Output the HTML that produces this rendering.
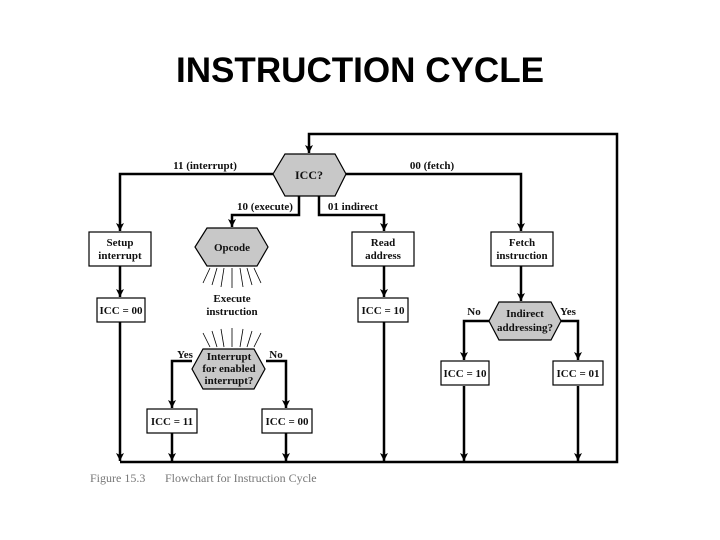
<!DOCTYPE html>
<html><head><meta charset="utf-8"><style>
html,body{margin:0;padding:0;background:#fff;}
svg{display:block;}
.t{font-family:"Liberation Serif",serif;font-weight:bold;font-size:11px;fill:#111;}
</style></head><body>
<svg width="720" height="540" viewBox="0 0 720 540" xmlns="http://www.w3.org/2000/svg">
<defs><marker id="a" markerWidth="10" markerHeight="10" refX="8" refY="4" orient="auto" markerUnits="userSpaceOnUse"><path d="M0,0 L8,4 L0,8 L2,4 Z" fill="#000"/></marker></defs>
<text x="360" y="82" text-anchor="middle" font-family="Liberation Sans,sans-serif" font-weight="bold" font-size="35" textLength="368" lengthAdjust="spacingAndGlyphs">INSTRUCTION CYCLE</text>
<g stroke="#000" stroke-width="2.5" fill="none">
<path d="M120,462 L617,462 L617,134 L309,134 L309,153" marker-end="url(#a)"/>
<path d="M273,174 L120,174 L120,231" marker-end="url(#a)"/>
<path d="M346,174 L521,174 L521,231" marker-end="url(#a)"/>
<path d="M299,196 L299,215 L232,215 L232,227" marker-end="url(#a)"/>
<path d="M319,196 L319,215 L384,215 L384,231" marker-end="url(#a)"/>
<path d="M120,266 L120,297" marker-end="url(#a)"/>
<path d="M120,322 L120,461" marker-end="url(#a)"/>
<path d="M384,266 L384,297" marker-end="url(#a)"/>
<path d="M384,322 L384,461" marker-end="url(#a)"/>
<path d="M521,266 L521,301" marker-end="url(#a)"/>
<path d="M489,321 L464,321 L464,360" marker-end="url(#a)"/>
<path d="M561,321 L578,321 L578,360" marker-end="url(#a)"/>
<path d="M464,386 L464,461" marker-end="url(#a)"/>
<path d="M578,386 L578,461" marker-end="url(#a)"/>
<path d="M192,361 L172,361 L172,408" marker-end="url(#a)"/>
<path d="M266,361 L286,361 L286,408" marker-end="url(#a)"/>
<path d="M172,433 L172,461" marker-end="url(#a)"/>
<path d="M286,433 L286,461" marker-end="url(#a)"/>
</g>
<g stroke="#000" stroke-width="1.2">
<polygon points="285,154 335,154 346,174 335,196 285,196 273,174" fill="#c8c8c8"/>
<polygon points="207,228 257,228 268,247 257,266 207,266 195,247" fill="#c8c8c8"/>
<polygon points="203,349 254,349 265,369 254,389 203,389 192,369" fill="#c8c8c8"/>
<polygon points="499,302 551,302 561,321 551,340 499,340 489,321" fill="#c8c8c8"/>
<rect x="89" y="232" width="62" height="34" fill="#fff"/>
<rect x="352" y="232" width="62" height="34" fill="#fff"/>
<rect x="491" y="232" width="62" height="34" fill="#fff"/>
<rect x="97" y="298" width="48" height="24" fill="#fff"/>
<rect x="358" y="298" width="50" height="24" fill="#fff"/>
<rect x="441" y="361" width="48" height="24" fill="#fff"/>
<rect x="553" y="361" width="50" height="24" fill="#fff"/>
<rect x="147" y="409" width="50" height="24" fill="#fff"/>
<rect x="262" y="409" width="50" height="24" fill="#fff"/>
</g>
<g stroke="#000" stroke-width="0.8">
<path d="M210,268 L203,283 M217,268 L212,285 M224,268 L221,287 M232,268 L232,288 M240,268 L243,287 M247,268 L252,285 M254,268 L261,283"/>
<path d="M210,347 L203,333 M217,347 L212,331 M224,347 L221,329 M232,347 L232,328 M240,347 L243,329 M247,347 L252,331 M254,347 L261,333"/>
</g>
<g class="t" text-anchor="middle">
<text x="309" y="179" font-size="12">ICC?</text>
<text x="232" y="251" font-size="11">Opcode</text>
<text x="120" y="246">Setup</text><text x="120" y="259">interrupt</text>
<text x="383" y="246">Read</text><text x="383" y="259">address</text>
<text x="522" y="246">Fetch</text><text x="522" y="259">instruction</text>
<text x="121" y="314">ICC = 00</text>
<text x="383" y="314">ICC = 10</text>
<text x="465" y="377">ICC = 10</text>
<text x="578" y="377">ICC = 01</text>
<text x="172" y="425">ICC = 11</text>
<text x="287" y="425">ICC = 00</text>
<text x="232" y="302">Execute</text><text x="232" y="315">instruction</text>
<text x="229" y="360">Interrupt</text><text x="229" y="372">for enabled</text><text x="229" y="384">interrupt?</text>
<text x="525" y="317">Indirect</text><text x="525" y="331">addressing?</text>
<text x="205" y="169">11 (interrupt)</text>
<text x="432" y="169">00 (fetch)</text>
<text x="265" y="210">10 (execute)</text>
<text x="353" y="210">01 indirect</text>
<text x="185" y="358">Yes</text>
<text x="276" y="358">No</text>
<text x="474" y="315">No</text>
<text x="568" y="315">Yes</text>
</g>
<text x="90" y="482" font-family="Liberation Serif,serif" font-size="12" fill="#777">Figure 15.3</text>
<text x="165" y="482" font-family="Liberation Serif,serif" font-size="12" fill="#777">Flowchart for Instruction Cycle</text>
</svg>
</body></html>
